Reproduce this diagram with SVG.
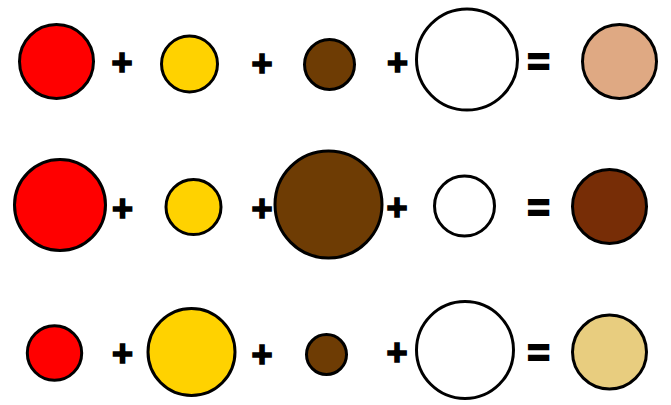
<svg xmlns="http://www.w3.org/2000/svg" width="671" height="405" viewBox="0 0 671 405">
<style>
circle{stroke:#000;stroke-width:3}
.r{fill:#FF0000}
.y{fill:#FFD200}
.b{fill:#6E3C04}
.w{fill:#FFFFFF}
.s{fill:#DFA983}
.d{fill:#772D06}
.t{fill:#E8CD7F}
text{font-family:"Liberation Sans",Arial,sans-serif;font-weight:bold;font-size:36px;fill:#000;stroke:#000;stroke-width:1.6;text-anchor:middle;dominant-baseline:central}
.eq{font-size:38px;stroke-width:2.2}
</style>
<rect width="671" height="405" fill="#fff"/>
<g id="row1">
<g id="r1-red"><circle class="r" cx="56.5" cy="61.5" r="37"/></g>
<g id="r1-p1"><text x="122" y="62">+</text></g>
<g id="r1-yellow"><circle class="y" cx="189.5" cy="64" r="28"/></g>
<g id="r1-p2"><text x="262" y="63">+</text></g>
<g id="r1-brown"><circle class="b" cx="329.5" cy="64.5" r="25"/></g>
<g id="r1-p3"><text x="397.5" y="62">+</text></g>
<g id="r1-white"><circle class="w" cx="467" cy="59.5" r="50.5"/></g>
<g id="r1-eq"><text class="eq" x="538.5" y="62">=</text></g>
<g id="r1-result"><circle class="s" cx="619.5" cy="61.5" r="37"/></g>
</g>
<g id="row2">
<g id="r2-red"><circle class="r" cx="60" cy="205" r="45.5"/></g>
<g id="r2-p1"><text x="122.5" y="208">+</text></g>
<g id="r2-yellow"><circle class="y" cx="193.5" cy="207" r="27.5"/></g>
<g id="r2-p2"><text x="262" y="208">+</text></g>
<g id="r2-brown"><circle class="b" cx="328.5" cy="204.5" r="53.5"/></g>
<g id="r2-p3"><text x="397" y="207">+</text></g>
<g id="r2-white"><circle class="w" cx="464.5" cy="206" r="30"/></g>
<g id="r2-eq"><text class="eq" x="538.5" y="208">=</text></g>
<g id="r2-result"><circle class="d" cx="609.5" cy="206.5" r="37"/></g>
</g>
<g id="row3">
<g id="r3-red"><circle class="r" cx="54.5" cy="353" r="27.2"/></g>
<g id="r3-p1"><text x="122.5" y="353">+</text></g>
<g id="r3-yellow"><circle class="y" cx="191.5" cy="352" r="43.5"/></g>
<g id="r3-p2"><text x="262" y="354">+</text></g>
<g id="r3-brown"><circle class="b" cx="326.5" cy="354.5" r="20"/></g>
<g id="r3-p3"><text x="397" y="352">+</text></g>
<g id="r3-white"><circle class="w" cx="465" cy="350" r="48.5"/></g>
<g id="r3-eq"><text class="eq" x="538.5" y="352.5">=</text></g>
<g id="r3-result"><circle class="t" cx="609.5" cy="352" r="37"/></g>
</g>
</svg>
